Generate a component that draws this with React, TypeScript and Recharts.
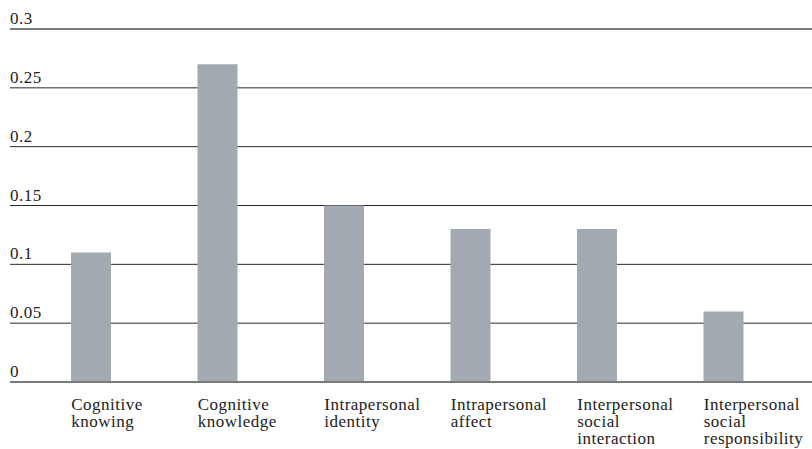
import { BarChart, Bar, XAxis, YAxis, CartesianGrid, ReferenceLine } from "recharts"

const categories = [
  "Cognitive knowing",
  "Cognitive knowledge",
  "Intrapersonal identity",
  "Intrapersonal affect",
  "Interpersonal social interaction",
  "Interpersonal social responsibility",
]

const labelLines = [
  ["Cognitive", "knowing"],
  ["Cognitive", "knowledge"],
  ["Intrapersonal", "identity"],
  ["Intrapersonal", "affect"],
  ["Interpersonal", "social", "interaction"],
  ["Interpersonal", "social", "responsibility"],
]

const values = [0.11, 0.27, 0.15, 0.13, 0.13, 0.06]

const yTicks = [0, 0.05, 0.1, 0.15, 0.2, 0.25, 0.3]
const yTickLabels = ["0", "0.05", "0.1", "0.15", "0.2", "0.25", "0.3"]

const data = categories.map((name, i) => ({ name, value: values[i] }))

const FONT = "'Liberation Serif', 'Times New Roman', serif"

function XTick(props: any) {
  const { x, y, index } = props
  const lines = labelLines[index] || []
  return (
    <g>
      {lines.map((l, i) => (
        <text
          key={i}
          x={x - 20}
          y={y + 28 + i * 17}
          fill="#222"
          fontSize={17}
          fontFamily={FONT}
          letterSpacing={0.5}
        >
          {l}
        </text>
      ))}
    </g>
  )
}

function YTick(props: any) {
  const { y, payload } = props
  const idx = yTicks.indexOf(payload.value)
  return (
    <text x={10} y={y - 5} fill="#222" fontSize={17} fontFamily={FONT} letterSpacing={0.5}>
      {yTickLabels[idx]}
    </text>
  )
}

export default function App() {
  return (
    <div style={{ position: "absolute", left: 0, top: 0, width: 812, height: 449, background: "#fff" }}>
      <BarChart
        width={812}
        height={449}
        data={data}
        margin={{ top: 29, right: 0, left: 0, bottom: 0 }}
      >
        <CartesianGrid vertical={false} stroke="#2a2a2a" strokeWidth={1} />
        <XAxis
          dataKey="name"
          height={67}
          padding={{ left: 18, right: 25 }}
          axisLine={false}
          tickLine={false}
          tickSize={0}
          tickMargin={0}
          interval={0}
          tick={<XTick />}
        />
        <YAxis
          width={10}
          domain={[0, 0.3]}
          ticks={yTicks}
          axisLine={false}
          tickLine={false}
          tick={<YTick />}
        />
        <ReferenceLine y={0.3} stroke="#7a7a7a" strokeWidth={2} />
        <Bar dataKey="value" fill="#a2a9b0" barSize={40} isAnimationActive={false} />
        <ReferenceLine y={0} stroke="#7a7a7a" strokeWidth={2} />
      </BarChart>
    </div>
  )
}
